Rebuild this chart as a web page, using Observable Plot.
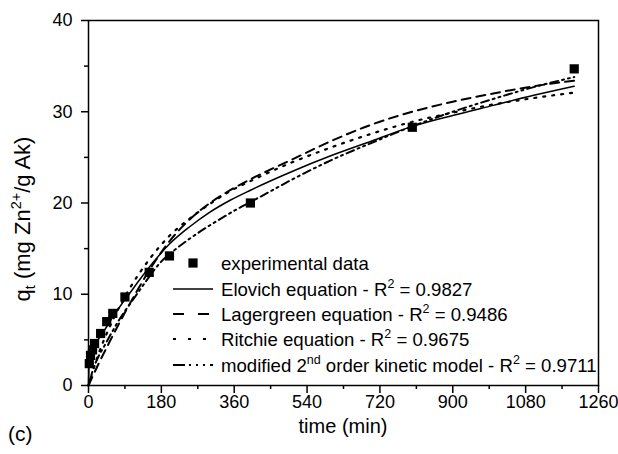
<!DOCTYPE html>
<html><head><meta charset="utf-8">
<script src="https://cdn.jsdelivr.net/npm/d3@7"></script>
<script src="https://cdn.jsdelivr.net/npm/@observablehq/plot@0.6"></script>
<style>
html,body{margin:0;padding:0;background:#fff;}
#chart{position:relative;width:618px;height:454px;}
</style></head><body><div id="chart"></div>
<script>
// experimental data
const expTime = [2, 5, 10, 15, 30, 45, 60, 90, 150, 200, 400, 800, 1200];
const expQ    = [2.4, 3.3, 3.9, 4.6, 5.7, 7.0, 7.9, 9.7, 12.4, 14.2, 20.0, 28.3, 34.7];

// Elovich (solid)
const elovichT = [0, 1, 3, 6, 13, 25, 40, 60, 80, 100, 130, 160, 200, 250, 300, 350, 400, 500, 600, 700, 800, 900, 1000, 1100, 1200];
const elovichQ = [0, 1.8, 2.7, 3.3, 4.2, 5.1, 6.1, 7.5, 8.8, 10.0, 11.8, 13.5, 15.5, 17.4, 19.0, 20.3, 21.4, 23.4, 25.2, 26.8, 28.4, 29.6, 30.7, 31.8, 32.8];

// Lagergreen (dashed)
const lagerT = [0, 25, 50, 100, 150, 200, 250, 300, 350, 400, 500, 600, 700, 800, 900, 1000, 1100, 1200];
const lagerQ = [0, 2.4, 4.6, 8.8, 12.6, 15.8, 18.2, 20.0, 21.4, 22.6, 24.7, 26.8, 28.6, 30.0, 31.1, 32.0, 32.8, 33.4];

// Ritchie (dotted)
const ritchieT = [0, 10, 25, 50, 100, 150, 200, 250, 300, 350, 400, 500, 600, 700, 800, 900, 1000, 1100, 1200];
const ritchieQ = [0, 1.5, 3.5, 6.2, 10.5, 13.8, 16.4, 18.3, 19.9, 21.3, 22.4, 24.4, 26.1, 27.6, 28.9, 29.9, 30.8, 31.5, 32.1];

// modified 2nd order (dash-dot-dot)
const m2T = [0, 10, 25, 40, 60, 80, 110, 140, 178, 220, 270, 320, 370, 400, 450, 500, 600, 700, 800, 900, 1000, 1100, 1200];
const m2Q = [0, 1.6, 3.2, 4.4, 6.0, 7.5, 9.4, 11.3, 13.5, 15.1, 16.7, 18.1, 19.4, 20.1, 21.3, 22.5, 24.7, 26.6, 28.4, 30.0, 31.4, 32.7, 33.8];

const modelNames = ["Elovich equation", "Lagergreen equation", "Ritchie equation", "modified 2nd order kinetic model"];
const r2Values = ["0.9827", "0.9486", "0.9675", "0.9711"];

const xMajor = [0, 180, 360, 540, 720, 900, 1080, 1260];
const xMinor = [90, 270, 450, 630, 810, 990, 1170];
const yMajor = [0, 10, 20, 30, 40];
const yMinor = [5, 15, 25, 35];

const FONT = "'Liberation Sans', Arial, Helvetica, sans-serif";
const rows = (ts, qs) => ts.map((t, i) => ({t, q: qs[i]}));

const dashes = ["none", "9,6", "2,7", "8,4,2,4,2,4"];
const legendDashes = ["none", "11,14", "3,12", "12,4,2,5,2,5,2,5"];
const widths = [1.5, 2, 2.2, 2];
const curveSets = [[elovichT, elovichQ], [lagerT, lagerQ], [ritchieT, ritchieQ], [m2T, m2Q]];

const lineMarks = curveSets.map(([ts, qs], i) =>
  Plot.line(rows(ts, qs), {x: "t", y: "q", stroke: "black", strokeWidth: widths[i],
    strokeDasharray: dashes[i], curve: "monotone-x"}));

const plot = Plot.plot({
  width: 618, height: 454,
  marginLeft: 88, marginRight: 20, marginTop: 20, marginBottom: 69,
  style: {fontFamily: FONT, fontSize: "18px", background: "white", color: "black"},
  x: {domain: [0, 1260], label: null},
  y: {domain: [0, 40], label: null},
  marks: [
    ...lineMarks,
    Plot.dot(rows(expTime, expQ), {x: "t", y: "q", symbol: "square", fill: "black", r: 5.2}),
    Plot.frame({stroke: "black", strokeWidth: 1.5}),
    Plot.axisX({ticks: xMajor, tickSize: 8, tickPadding: 2, fontSize: 18, strokeWidth: 1.5, label: null, tickFormat: d => String(d)}),
    Plot.axisX({ticks: xMinor, tickSize: 4, text: null, strokeWidth: 1.5, label: null}),
    Plot.axisY({ticks: yMajor, tickSize: 7, tickPadding: 9, fontSize: 18, strokeWidth: 1.5, label: null, tickFormat: d => String(d)}),
    Plot.axisY({ticks: yMinor, tickSize: 4, text: null, strokeWidth: 1.5, label: null})
  ]
});
document.getElementById("chart").appendChild(plot);

// legend and labels
const svg = d3.select(plot);
const g = svg.append("g").attr("font-family", FONT).attr("fill", "black").attr("text-anchor", "start");
const rowY = [263, 289, 314, 339, 365];
const sx0 = 173, sx1 = 213, tx = 221;
const LFS = 18.6;
g.append("rect").attr("x", 193 - 4.6).attr("y", rowY[0] - 4.6).attr("width", 9.2).attr("height", 9.2).attr("fill", "black");
g.append("text").attr("x", tx).attr("y", rowY[0]).attr("dy", "0.36em").attr("font-size", LFS).text("experimental data");
modelNames.forEach((name, i) => {
  const y = rowY[i + 1];
  g.append("line").attr("x1", sx0).attr("x2", sx1).attr("y1", y).attr("y2", y)
    .attr("stroke", "black").attr("stroke-width", widths[i]).attr("stroke-dasharray", legendDashes[i]);
  const t = g.append("text").attr("x", tx).attr("y", y).attr("dy", "0.36em").attr("font-size", LFS);
  if (name.includes("2nd")) {
    const [a, b] = name.split("2nd");
    t.append("tspan").text(a + "2");
    t.append("tspan").attr("font-size", 12.5).attr("dy", -8).text("nd");
    t.append("tspan").attr("dy", 8).text(" " + b.trim() + " - R");
  } else {
    t.append("tspan").text(name + " - R");
  }
  t.append("tspan").attr("font-size", 12.5).attr("dy", -8).text("2");
  t.append("tspan").attr("dy", 8).text(" = " + r2Values[i]);
});

const yl = g.append("text").attr("transform", "translate(30,219) rotate(-90)")
  .attr("text-anchor", "middle").attr("font-size", 22);
yl.append("tspan").text("q");
yl.append("tspan").attr("font-size", 14.5).attr("dy", 5).text("t");
yl.append("tspan").attr("dy", -5).text(" (mg Zn");
yl.append("tspan").attr("font-size", 14.5).attr("dy", -9).text("2+");
yl.append("tspan").attr("dy", 9).text("/g Ak)");

g.append("text").attr("x", 343).attr("y", 433).attr("text-anchor", "middle").attr("font-size", 20).text("time (min)");
g.append("text").attr("x", 8).attr("y", 441).attr("font-size", 21).text("(c)");
</script></body></html>
